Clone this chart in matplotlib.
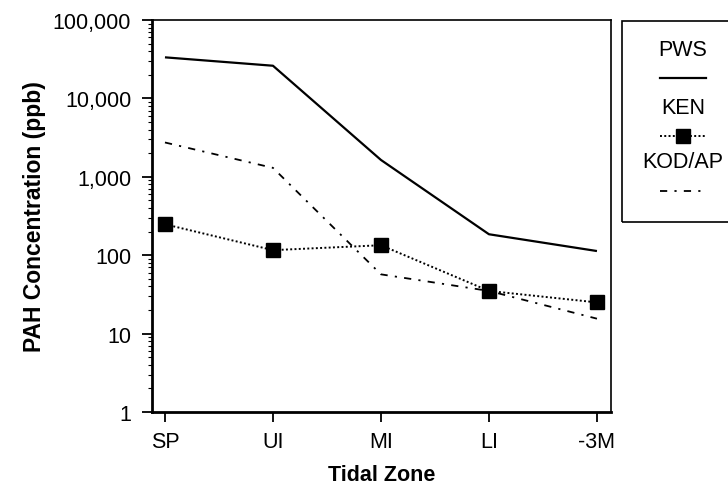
import matplotlib

matplotlib.use("Agg")
import matplotlib.pyplot as plt  # noqa: E402
from matplotlib.lines import Line2D  # noqa: E402
from matplotlib.patches import Rectangle  # noqa: E402
from matplotlib.ticker import FixedLocator, FuncFormatter, LogLocator, NullFormatter  # noqa: E402

plt.rcParams["font.family"] = ["Liberation Sans", "DejaVu Sans"]

zones = ["SP", "UI", "MI", "LI", "-3M"]
pws = [33400, 26100, 1640, 185, 113]
ken = [248, 116, 134, 35, 25]
kod_ap = [2740, 1300, 57, 35, 15.5]

W, H = 728, 485
fig = plt.figure(figsize=(W / 100, H / 100), dpi=100)
ax = fig.add_axes([152 / W, 1 - 413 / H, (611 - 152) / W, (413 - 21) / H])

x = list(range(len(zones)))
ax.plot(x, pws, color="black", linewidth=1.6, solid_capstyle="butt")
ax.plot(x, ken, color="black", linewidth=1.4, linestyle=(0, (1, 1.2)),
        marker="s", markersize=10, markerfacecolor="black")
ax.plot(x, kod_ap, color="black", linewidth=1.3, linestyle=(0, (4, 4, 1.2, 4)))

ax.set_yscale("log")
ax.set_ylim(1, 100000)
ax.set_xlim(-0.12, 4.13)
ax.set_xticks(x)
ax.set_xticklabels(zones)
ax.yaxis.set_major_locator(FixedLocator([1, 10, 100, 1000, 10000, 100000]))
ax.yaxis.set_major_formatter(FuncFormatter(lambda v, _: f"{int(round(v)):,}"))
ax.yaxis.set_minor_locator(LogLocator(base=10, subs=range(2, 10)))
ax.yaxis.set_minor_formatter(NullFormatter())

ax.tick_params(axis="both", which="major", direction="out", length=7, width=1.3,
               labelsize=15.5)
ax.tick_params(axis="x", which="major", pad=7)
ax.tick_params(axis="y", which="minor", direction="out", length=3, width=0.8)
ax.tick_params(axis="y", which="major", pad=8)

for side in ("left", "bottom"):
    ax.spines[side].set_linewidth(2.0)
for side in ("top", "right"):
    ax.spines[side].set_linewidth(1.2)

ax.set_xlabel("Tidal Zone", fontsize=15.5, fontweight="bold", labelpad=8)
ax.set_ylabel("PAH Concentration (ppb)", fontsize=16.5, fontweight="bold", labelpad=5)

# legend box, labels stacked above their line samples
fig.patches.append(Rectangle((622 / W, 1 - 223 / H), 120 / W, (223 - 22) / H,
                             transform=fig.transFigure, fill=False,
                             edgecolor="black", linewidth=1.2))
cx = 683 / W
entries = [
    ("PWS", 50, 79, dict(color="black", linewidth=1.6)),
    ("KEN", 108, 137, dict(color="black", linewidth=1.4, linestyle=(0, (1, 1.2)),
                           marker="s", markersize=10, markevery=[1])),
    ("KOD/AP", 163, 192, dict(color="black", linewidth=1.3, linestyle=(0, (4, 4, 1.2, 4)))),
]
for label, ty, ly, style in entries:
    fig.text(cx, 1 - ty / H, label, ha="center", va="center", fontsize=15.5)
    fig.lines.append(Line2D([cx - 23 / W, cx, cx + 23 / W], [1 - ly / H] * 3,
                            transform=fig.transFigure, **style))

fig.savefig("out.png", dpi=100)
